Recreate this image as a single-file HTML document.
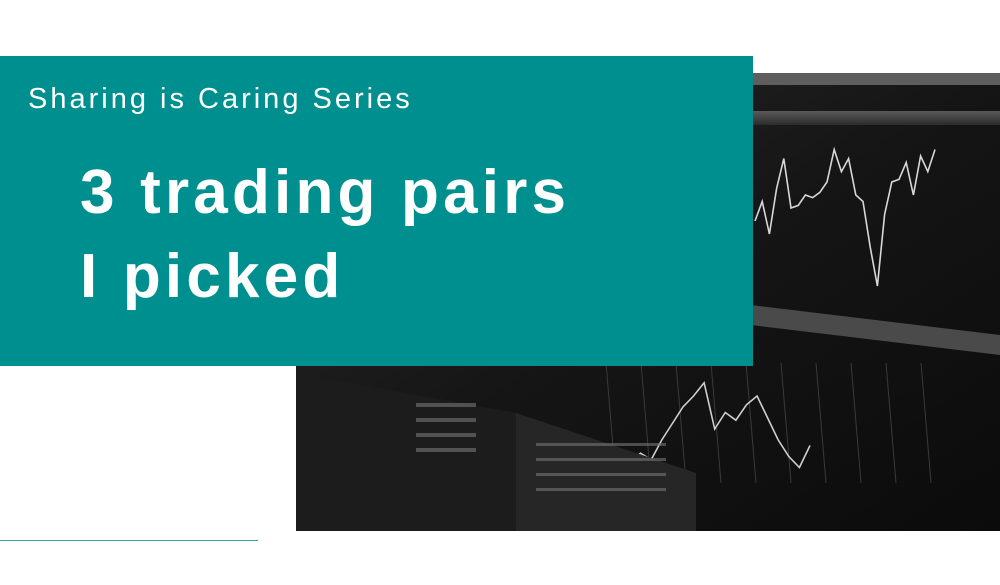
<!DOCTYPE html>
<html><head><meta charset="utf-8"><style>
html,body{margin:0;padding:0;background:#fff;}
#root{position:relative;width:1000px;height:585px;overflow:hidden;background:#fff;font-family:"Liberation Sans",sans-serif;}
#photo{position:absolute;left:296px;top:73px;width:704px;height:458px;}
#box{position:absolute;left:0;top:56px;width:753px;height:310px;background:#008f8f;}
.t{position:absolute;color:#fff;white-space:nowrap;}
#sub{left:28px;top:83px;font-size:29px;letter-spacing:3px;}
#t1{left:80px;top:157px;font-size:62px;font-weight:bold;letter-spacing:4.2px;}
#t2{left:80px;top:241px;font-size:62px;font-weight:bold;letter-spacing:4.2px;}
#rule{position:absolute;left:0;top:540px;width:258px;height:1px;background:#3aa8a8;}
</style></head><body>
<div id="root">
<svg id="photo" width="704" height="458" viewBox="0 0 704 458">
<defs>
<linearGradient id="bg" x1="0" y1="0" x2="1" y2="1"><stop offset="0" stop-color="#2a2a2a"/><stop offset="0.5" stop-color="#151515"/><stop offset="1" stop-color="#0b0b0b"/></linearGradient>
<linearGradient id="fr" x1="0" y1="0" x2="0" y2="1"><stop offset="0" stop-color="#5a5a5a"/><stop offset="1" stop-color="#2b2b2b"/></linearGradient>
</defs>
<rect width="704" height="458" fill="url(#bg)"/>
<rect x="455" y="0" width="249" height="12" fill="#5e5e5e"/>
<rect x="455" y="38" width="249" height="14" fill="url(#fr)"/>
<polygon points="455,232 704,262 704,282 455,252" fill="#4a4a4a"/>
<g id="grid" stroke="#3a3a3a" stroke-width="1"></g>
<polyline id="line1" fill="none" stroke="#d8d8d8" stroke-width="1.6"/>
<polyline id="line2" fill="none" stroke="#cfcfcf" stroke-width="1.6"/>
<polygon points="0,300 220,340 220,458 0,458" fill="#1c1c1c"/>
<polygon points="220,340 400,400 400,458 220,458" fill="#262626"/>
<g fill="#777" opacity="0.6">
<rect x="120" y="330" width="60" height="4"/><rect x="120" y="345" width="60" height="4"/><rect x="120" y="360" width="60" height="4"/><rect x="120" y="375" width="60" height="4"/>
<rect x="240" y="370" width="130" height="3"/><rect x="240" y="385" width="130" height="3"/><rect x="240" y="400" width="130" height="3"/><rect x="240" y="415" width="130" height="3"/>
</g>
</svg>
<div id="box"></div>
<div class="t" id="sub">Sharing is Caring Series</div>
<div class="t" id="t1">3 trading pairs</div>
<div class="t" id="t2">I picked</div>
<div id="rule"></div>
</div>
<script>
const upperValues=[40,55,30,65,88,50,52,60,58,62,70,95,78,88,60,55,20,-10,45,70,72,85,60,90,78,95];
const lowerValues=[10,18,12,30,45,60,70,82,40,55,48,62,70,50,30,15,5,25];
function xU(i){return 459+i*(180/(upperValues.length-1));}
function yU(v){return 200-v*1.3;}
function xL(i){return 334+i*(180/(lowerValues.length-1));}
function yL(v){return 400-v*1.1;}
document.getElementById('line1').setAttribute('points',upperValues.map((v,i)=>xU(i)+','+yU(v)).join(' '));
document.getElementById('line2').setAttribute('points',lowerValues.map((v,i)=>xL(i)+','+yL(v)).join(' '));
const g=document.getElementById('grid');
for(let k=0;k<10;k++){
 const l=document.createElementNS('http://www.w3.org/2000/svg','line');
 
 
 const x=310+k*35;l.setAttribute('x1',x);l.setAttribute('x2',x+10);l.setAttribute('y1',290);l.setAttribute('y2',410);g.appendChild(l);
}
</script>
</body></html>
